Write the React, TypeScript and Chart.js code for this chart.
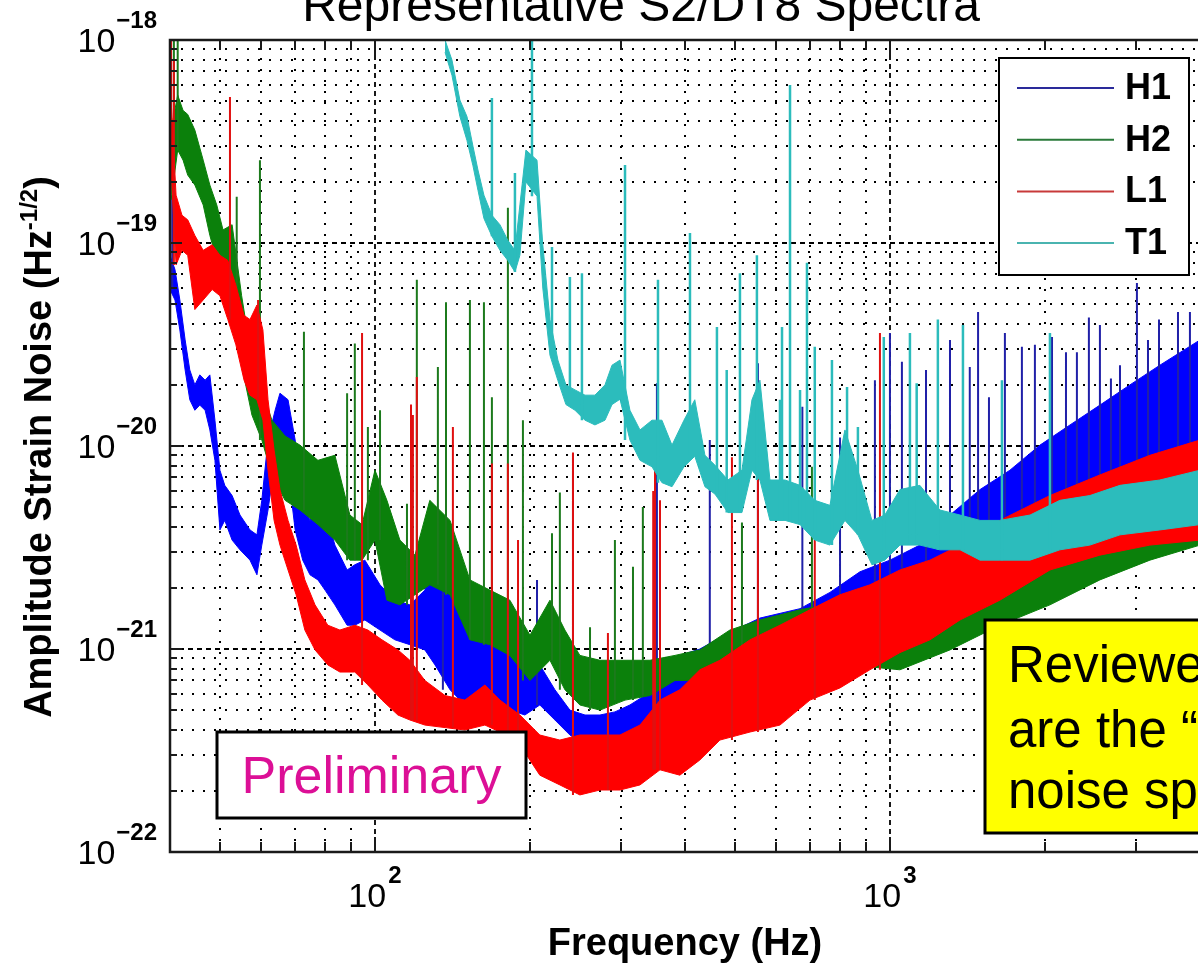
import React, { useEffect, useRef } from "react";
import { Chart, registerables } from "chart.js";

Chart.register(...registerables);

const FONT = '"Liberation Sans", Arial, Helvetica, sans-serif';

const TITLE = "Representative S2/DT8 Spectra";
const X_AXIS_TITLE = "Frequency (Hz)";
const Y_AXIS_TITLE = "Amplitude Strain Noise (Hz";
const Y_AXIS_TITLE_SUP = "-1/2";
const Y_AXIS_TITLE_END = ")";

const X_MIN = 40;
const X_MAX = 4000;
const Y_MIN = 1e-22;
const Y_MAX = 1e-18;

const xMajorTicks = [100, 1000];
const xMajorExps = ["2", "3"];
const xMinorTicks = [50, 60, 70, 80, 90, 200, 300, 400, 500, 600, 700, 800, 900, 2000, 3000];
const yMajorTicks = [1e-22, 1e-21, 1e-20, 1e-19, 1e-18];
const yMajorExps = ["\u221222", "\u221221", "\u221220", "\u221219", "\u221218"];
const yMinorTicks = [
  2e-22, 3e-22, 4e-22, 5e-22, 6e-22, 7e-22, 8e-22, 9e-22,
  2e-21, 3e-21, 4e-21, 5e-21, 6e-21, 7e-21, 8e-21, 9e-21,
  2e-20, 3e-20, 4e-20, 5e-20, 6e-20, 7e-20, 8e-20, 9e-20,
  2e-19, 3e-19, 4e-19, 5e-19, 6e-19, 7e-19, 8e-19, 9e-19,
];

const seriesNames = ["H1", "H2", "L1", "T1"];
const seriesColors = ["#0000ff", "#0b800b", "#ff0000", "#2cbcbc"];
const spikeColors = ["#2020a8", "#1c7a1c", "#e01010", "#2cbcbc"];
const legendColors = ["#2a2a9a", "#2a7a3a", "#c83a3a", "#4ab4b0"];

const PRELIM_TEXT = "Preliminary";
const NOTE_LINES = ["Reviewed spectra", "are the \u201cofficial\u201d", "noise spectra"];

// ---------------- H1 ----------------
const h1Freq = [
  40.0, 40.9, 41.8, 42.8, 43.7, 44.7, 45.7, 46.8, 47.8, 48.9,
  50.0, 51.1, 52.8, 54.7, 57.2, 59.0, 60.3, 62.0, 64.0, 65.4,
  67.8, 70.0, 72.4, 74.8, 77.5, 80.0, 83.6, 88.3, 91.4, 95.6,
  102.3, 109.3, 116.9, 125.0, 130.8, 139.9, 149.5, 159.9, 171.0, 182.8,
  195.5, 209.0, 223.6, 239.1, 255.8, 273.5, 292.4, 312.7, 334.4, 357.7,
  390.9, 427.5, 488.9, 559.2, 668.9, 764.6, 874.3, 1000, 1143, 1308,
  1496, 1710, 1956, 2237, 2557, 2924, 3343, 4000,
];
const h1Upper = [
  8.7e-20, 7.4e-20, 5.24e-20, 3.33e-20, 2.37e-20, 2.0e-20, 2.24e-20, 2.11e-20, 2.24e-20, 1.34e-20,
  7.6e-21, 6.4e-21, 5.7e-21, 4.57e-21, 3.86e-21, 3.65e-21, 5.4e-21, 1.07e-20, 1.5e-20, 1.82e-20,
  1.69e-20, 1.07e-20, 5.4e-21, 4.3e-21, 5.1e-21, 4.84e-21, 3.25e-21, 2.45e-21, 2.6e-21, 2.74e-21,
  2.07e-21, 1.74e-21, 1.65e-21, 1.95e-21, 2.74e-21, 2.32e-21, 2.19e-21, 1.74e-21, 1.24e-21, 9.3e-22,
  8.8e-22, 8.35e-22, 6.3e-22, 5.0e-22, 4.73e-22, 4.73e-22, 4.9e-22, 5.3e-22, 5.9e-22, 7.9e-22,
  9.3e-22, 1.0e-21, 1.21e-21, 1.42e-21, 1.58e-21, 1.9e-21, 2.4e-21, 2.74e-21, 3.25e-21, 4.57e-21,
  6.1e-21, 7.6e-21, 1.01e-20, 1.27e-20, 1.59e-20, 2.0e-20, 2.5e-20, 3.33e-20,
];
const h1Lower = [
  5.9e-20, 5.24e-20, 3.73e-20, 2.37e-20, 1.69e-20, 1.5e-20, 1.59e-20, 1.5e-20, 1.2e-20, 8.5e-21,
  3.86e-21, 4.3e-21, 3.44e-21, 3.08e-21, 2.74e-21, 2.32e-21, 3.25e-21, 4.84e-21, 8.5e-21, 1.07e-20,
  7.6e-21, 3.86e-21, 2.74e-21, 2.32e-21, 2.19e-21, 1.95e-21, 1.65e-21, 1.31e-21, 1.31e-21, 1.39e-21,
  1.24e-21, 1.11e-21, 1.05e-21, 9.9e-22, 8.35e-22, 6.3e-22, 5.3e-22, 5.6e-22, 5.3e-22, 5.0e-22,
  4.73e-22, 5.3e-22, 4.47e-22, 3.77e-22, 3.37e-22, 3.56e-22, 3.77e-22, 3.77e-22, 3.99e-22, 4.47e-22,
  6.3e-22, 7.0e-22, 7.9e-22, 9.3e-22, 1.05e-21, 1.31e-21, 1.65e-21, 1.85e-21, 2.07e-21, 2.45e-21,
  2.74e-21, 3.08e-21, 3.44e-21, 3.86e-21, 4.3e-21, 4.84e-21, 5.4e-21, 6.1e-21,
];
const h1SpikeFreq = [
  40.4, 135.5, 206.4, 242.4, 352.8, 446.9, 554.2, 676, 800, 935, 1000, 1055, 1175, 1308, 1429,
  1483, 1557, 1672, 1804, 1912, 2064, 2197, 2307, 2434, 2557, 2686, 2797, 3017, 3170, 3330, 3625, 3824,
];
const h1SpikePeak = [
  1.72e-19, 4.47e-21, 2.19e-21, 9.2e-21, 2.04e-20, 1.07e-20, 2.56e-20, 1.56e-20, 1.1e-20, 2.11e-20, 3.6e-20, 2.6e-20, 2.37e-20, 3.33e-20, 2.45e-20,
  4.57e-20, 1.74e-20, 3.6e-20, 3.08e-20, 3.15e-20, 3.44e-20, 2.9e-20, 2.9e-20, 4.3e-20, 3.95e-20, 2.15e-20, 2.5e-20, 6.35e-20, 3.33e-20, 4.2e-20, 4.57e-20, 4.57e-20,
];

// ---------------- H2 ----------------
const h2Freq = [
  40.2, 41.4, 42.4, 43.3, 44.7, 46.4, 47.8, 49.3, 50.7, 52.8,
  55.1, 57.7, 60.3, 63.1, 66.9, 71.5, 77.5, 83.6, 89.4, 94.4,
  100, 105.5, 111.8, 119.6, 127.8, 139.9, 152.9, 167.2, 182.8, 200,
  218.7, 233.8, 250, 273.5, 305.9, 342, 382.5, 427.5, 488.9, 559.2,
  668.9, 836.1, 1045.7, 1308, 1635, 2045, 2557, 3198, 4000,
];
const h2Upper = [
  3.6e-19, 5.36e-19, 4.5e-19, 4.3e-19, 3.6e-19, 2.56e-19, 1.93e-19, 1.54e-19, 1.16e-19, 1.23e-19,
  5.5e-20, 2.65e-20, 1.89e-20, 1.34e-20, 1.12e-20, 1.01e-20, 8.5e-21, 9.0e-21, 4.57e-21, 4.1e-21,
  7.6e-21, 5.4e-21, 3.44e-21, 2.9e-21, 5.4e-21, 4.3e-21, 2.19e-21, 1.95e-21, 1.74e-21, 1.17e-21,
  1.74e-21, 1.24e-21, 9.3e-22, 8.8e-22, 8.8e-22, 8.8e-22, 9.3e-22, 9.9e-22, 1.24e-21, 1.39e-21,
  1.56e-21, 1.74e-21, 1.95e-21, 2.19e-21, 2.74e-21, 3.25e-21, 4.1e-21, 5.1e-21, 6.1e-21,
];
const h2Lower = [
  1.63e-19, 2.87e-19, 2.56e-19, 2.16e-19, 1.93e-19, 1.54e-19, 1.09e-19, 8.2e-20, 5.24e-20, 5.5e-20,
  2.5e-20, 1.42e-20, 1.07e-20, 7.2e-21, 5.4e-21, 4.84e-21, 4.1e-21, 3.44e-21, 2.74e-21, 2.74e-21,
  3.44e-21, 1.74e-21, 1.65e-21, 1.85e-21, 2.07e-21, 1.85e-21, 1.11e-21, 1.05e-21, 9.3e-22, 7.0e-22,
  8.8e-22, 6.3e-22, 5.3e-22, 5.0e-22, 5.6e-22, 5.9e-22, 7.0e-22, 7.0e-22, 7.45e-22, 8.35e-22,
  9.3e-22, 8.35e-22, 7.9e-22, 9.9e-22, 1.31e-21, 1.65e-21, 2.19e-21, 2.74e-21, 3.25e-21,
];
const h2SpikeFreq = [
  40.7, 41.4, 53.9, 59.8, 72.8, 88.3, 91.4, 96.9, 102.3, 115.4,
  120.6, 132.5, 137.4, 152.9, 162.8, 168.7, 181.2, 193.8, 220.7, 228.6,
  261.6, 292.4, 317.0, 331.3, 516.0, 705.5,
];
const h2SpikePeak = [
  1e-18, 1e-18, 1.69e-19, 2.56e-19, 3.65e-20, 1.82e-20, 3.2e-20, 1.24e-20, 1.5e-20, 5.2e-21,
  6.6e-20, 2.45e-20, 5.1e-20, 5.24e-20, 5.1e-20, 1.74e-20, 1.49e-19, 1.34e-20, 3.72e-21, 5.9e-21,
  1.28e-21, 3.44e-21, 2.54e-21, 5.0e-21, 4.2e-21, 7.9e-21,
];

// ---------------- L1 ----------------
const l1Freq = [
  40.2, 41.1, 42.2, 43.3, 44.7, 46.4, 48.3, 50.0, 51.8, 53.7,
  55.7, 57.2, 59.0, 60.6, 62.0, 63.7, 65.4, 67.8, 70.3, 73.1,
  76.5, 81.0, 85.5, 91.4, 96.9, 103.2, 110.8, 116.9, 125.0, 136.8,
  149.5, 163.5, 174.9, 191.2, 209.0, 228.6, 250, 273.5, 299.1, 327.1,
  357.7, 390.9, 427.5, 467.6, 535.1, 611.6, 699.3, 799.7, 914.2, 1045.7,
  1196, 1368, 1635, 2045, 2557, 3198, 4000,
];
const l1Upper = [
  5.06e-19, 1.72e-19, 1.37e-19, 1.3e-19, 1.09e-19, 9.2e-20, 9.8e-20, 8.7e-20, 8.2e-20, 6.2e-20,
  4.4e-20, 4.2e-20, 4.95e-20, 3.73e-20, 1.69e-20, 9.55e-21, 6.1e-21, 4.3e-21, 3.25e-21, 2.19e-21,
  1.65e-21, 1.31e-21, 1.24e-21, 1.31e-21, 1.24e-21, 1.11e-21, 9.9e-22, 8.8e-22, 7.0e-22, 5.9e-22,
  5.6e-22, 6.65e-22, 5.6e-22, 4.73e-22, 3.77e-22, 3.56e-22, 3.77e-22, 3.77e-22, 3.77e-22, 4.22e-22,
  5.6e-22, 6.3e-22, 7.9e-22, 8.8e-22, 1.11e-21, 1.31e-21, 1.56e-21, 1.85e-21, 2.07e-21, 2.45e-21,
  2.74e-21, 3.25e-21, 4.3e-21, 5.7e-21, 7.2e-21, 9.0e-21, 1.07e-20,
];
const l1Lower = [
  2.29e-19, 7.8e-20, 9.2e-20, 8.7e-20, 4.7e-20, 5.24e-20, 5.9e-20, 5.5e-20, 4.2e-20, 3.15e-20,
  2.11e-20, 1.78e-20, 1.69e-20, 1.34e-20, 7.6e-21, 4.3e-21, 3.25e-21, 2.45e-21, 1.85e-21, 1.24e-21,
  9.9e-22, 8.35e-22, 7.7e-22, 7.7e-22, 6.65e-22, 5.6e-22, 4.73e-22, 4.47e-22, 4.22e-22, 4.1e-22,
  3.99e-22, 4.22e-22, 3.9e-22, 3.37e-22, 2.39e-22, 2.14e-22, 1.91e-22, 2.02e-22, 2.02e-22, 2.14e-22,
  2.54e-22, 2.39e-22, 2.84e-22, 3.56e-22, 3.9e-22, 4.22e-22, 5.6e-22, 6.43e-22, 7.9e-22, 9.6e-22,
  1.11e-21, 1.39e-21, 1.74e-21, 2.45e-21, 2.9e-21, 3.25e-21, 3.44e-21,
];
const l1SpikeFreq = [
  40.2, 40.7, 52.3, 59.3, 94.4, 117.5, 118.5, 120.6, 141.7, 168.7,
  181.2, 189.6, 242.4, 283.4, 347.0, 349.8, 357.7, 493.4, 554.2, 714.6, 956.3,
];
const l1SpikePeak = [
  1e-18, 8e-19, 5.24e-19, 5.24e-20, 3.6e-20, 1.6e-20, 1.42e-20, 2.19e-20, 1.24e-20, 8.2e-21,
  8.2e-21, 3.44e-21, 9.3e-21, 1.2e-21, 6.0e-21, 7.6e-21, 5.4e-21, 8.8e-21, 7.9e-21, 3.44e-21, 3.6e-20,
];

// ---------------- T1 ----------------
const t1Freq = [
  136.8, 141.1, 146.2, 150.9, 155.0, 158.5, 162.8, 168.7, 174.9, 181.2,
  187.0, 191.2, 196.4, 206.4, 211.8, 218.7, 226.6, 234.9, 244.6, 255.8,
  267.4, 279.7, 288.6, 299.1, 312.7, 327.1, 345.1, 360.8, 377.4, 398.2,
  417.9, 437.3, 457.2, 484.6, 516.0, 539.6, 559.2, 584.8, 625.7, 668.9,
  714.6, 764.6, 817.7, 866.6, 922.6, 977.4, 1045.7, 1143, 1250, 1368,
  1496, 1635, 1871, 2138, 2445, 2797, 3343, 4000,
];
const t1Upper = [
  1e-18, 7.97e-19, 5.06e-19, 4.2e-19, 3.0e-19, 2.29e-19, 1.72e-19, 1.37e-19, 1.23e-19, 1.03e-19,
  9.2e-20, 1.54e-19, 2.87e-19, 2.56e-19, 9.8e-20, 4.2e-20, 2.65e-20, 2.0e-20, 1.89e-20, 1.78e-20,
  1.78e-20, 2.0e-20, 2.5e-20, 2.65e-20, 1.5e-20, 1.2e-20, 1.34e-20, 1.34e-20, 1.01e-20, 1.34e-20,
  1.69e-20, 9.0e-21, 8.05e-21, 6.8e-21, 7.6e-21, 1.69e-20, 2.11e-20, 6.8e-21, 6.8e-21, 6.4e-21,
  5.4e-21, 5.1e-21, 1.2e-20, 7.6e-21, 4.3e-21, 4.57e-21, 6.1e-21, 6.4e-21, 4.84e-21, 4.57e-21,
  4.3e-21, 4.3e-21, 4.57e-21, 5.4e-21, 5.7e-21, 6.4e-21, 6.8e-21, 7.6e-21,
];
const t1Lower = [
  8.7e-19, 6.7e-19, 4.2e-19, 3.2e-19, 2.4e-19, 1.82e-19, 1.32e-19, 1.08e-19, 9.2e-20, 8.2e-20,
  7.2e-20, 8.7e-20, 2.0e-19, 1.7e-19, 6.0e-20, 2.8e-20, 2.1e-20, 1.6e-20, 1.5e-20, 1.34e-20,
  1.27e-20, 1.34e-20, 1.6e-20, 1.7e-20, 1.07e-20, 8.5e-21, 7.9e-21, 6.6e-21, 6.3e-21, 7.9e-21,
  8.9e-21, 6.3e-21, 5.8e-21, 4.7e-21, 4.7e-21, 7.6e-21, 6.8e-21, 4.3e-21, 4.3e-21, 4.1e-21,
  3.44e-21, 3.25e-21, 4.3e-21, 3.65e-21, 2.6e-21, 2.74e-21, 3.25e-21, 3.25e-21, 3.08e-21, 3.08e-21,
  2.74e-21, 2.74e-21, 2.74e-21, 3.08e-21, 3.25e-21, 3.65e-21, 3.86e-21, 4.1e-21,
];
const t1SpikeFreq = [
  168.7, 187.0, 201.8, 220.7, 239.1, 252.3, 305.9, 354.5, 409.0, 461.4,
  482.0, 511.4, 551.7, 611.6, 617.2, 639.7, 669.0, 690.1, 714.6, 771.6,
  825.5, 866.6, 972.9, 1093.5, 1127, 1239, 1386, 1650, 2045,
];
const t1SpikePeak = [
  5.18e-19, 2.21e-19, 1e-18, 9.55e-20, 6.8e-20, 7.1e-20, 2.42e-19, 6.6e-20, 1.12e-19, 3.86e-20,
  2.37e-20, 7.1e-20, 8.7e-20, 1.69e-20, 3.86e-20, 6.0e-19, 1.89e-20, 8.0e-20, 3.08e-20, 2.65e-20,
  1.95e-20, 1.24e-20, 3.44e-20, 3.6e-20, 2.04e-20, 4.2e-20, 3.95e-20, 2.11e-20, 3.6e-20,
];

function nearestIndex(freqs: number[], f: number) {
  let best = 0;
  let bestD = Infinity;
  for (let i = 0; i < freqs.length; i++) {
    const d = Math.abs(Math.log(freqs[i]) - Math.log(f));
    if (d < bestD) {
      bestD = d;
      best = i;
    }
  }
  return best;
}

function buildDatasets() {
  const groups = [
    { freq: h1Freq, up: h1Upper, lo: h1Lower, sf: h1SpikeFreq, sp: h1SpikePeak, w: 2 },
    { freq: h2Freq, up: h2Upper, lo: h2Lower, sf: h2SpikeFreq, sp: h2SpikePeak, w: 2 },
    { freq: l1Freq, up: l1Upper, lo: l1Lower, sf: l1SpikeFreq, sp: l1SpikePeak, w: 2 },
    { freq: t1Freq, up: t1Upper, lo: t1Lower, sf: t1SpikeFreq, sp: t1SpikePeak, w: 2.5 },
  ];
  const out: any[] = [];
  groups.forEach((g, k) => {
    const base = (3 - k) * 3 + 1;
    out.push({
      label: seriesNames[k] + " upper",
      data: g.freq.map((f, i) => ({ x: f, y: g.up[i] })),
      borderColor: seriesColors[k],
      borderWidth: 1,
      pointRadius: 0,
      fill: false,
      order: base + 2,
    });
    out.push({
      label: seriesNames[k] + " lower",
      data: g.freq.map((f, i) => ({ x: f, y: g.lo[i] })),
      borderColor: seriesColors[k],
      backgroundColor: seriesColors[k],
      borderWidth: 1,
      pointRadius: 0,
      fill: "-1",
      order: base + 1,
    });
    const pts: any[] = [];
    g.sf.forEach((f, i) => {
      const j = nearestIndex(g.freq, f);
      pts.push({ x: f, y: g.lo[j] }, { x: f, y: g.sp[i] }, { x: f, y: null });
    });
    out.push({
      label: seriesNames[k] + " lines",
      data: pts,
      borderColor: spikeColors[k],
      borderWidth: g.w,
      pointRadius: 0,
      fill: false,
      spanGaps: false,
      order: base,
    });
  });
  return out;
}

const lookPlugin = {
  id: "matlabLook",
  beforeDatasetsDraw(chart: any) {
    const { ctx, chartArea } = chart;
    const { left, right, top, bottom } = chartArea;
    const xs = chart.scales.x;
    const ys = chart.scales.y;
    ctx.save();
    ctx.beginPath();
    ctx.rect(left, top, right - left, bottom - top);
    ctx.clip();
    ctx.strokeStyle = "#000";
    ctx.lineCap = "butt";
    ctx.lineWidth = 2;
    ctx.setLineDash([2, 9]);
    ctx.beginPath();
    xMinorTicks.forEach((v) => {
      const p = Math.round(xs.getPixelForValue(v));
      ctx.moveTo(p, bottom);
      ctx.lineTo(p, top);
    });
    yMinorTicks.forEach((v) => {
      const p = Math.round(ys.getPixelForValue(v));
      ctx.moveTo(left, p);
      ctx.lineTo(right, p);
    });
    ctx.stroke();
    ctx.lineWidth = 1.8;
    ctx.setLineDash([5, 4]);
    ctx.beginPath();
    xMajorTicks.forEach((v) => {
      const p = Math.round(xs.getPixelForValue(v));
      ctx.moveTo(p, bottom);
      ctx.lineTo(p, top);
    });
    yMajorTicks.forEach((v) => {
      const p = Math.round(ys.getPixelForValue(v));
      if (p <= top + 2 || p >= bottom - 2) return;
      ctx.moveTo(left, p);
      ctx.lineTo(right, p);
    });
    ctx.stroke();
    ctx.restore();
  },
  afterDraw(chart: any) {
    const { ctx, chartArea } = chart;
    const { left, right, top, bottom } = chartArea;
    const xs = chart.scales.x;
    const ys = chart.scales.y;
    ctx.save();
    ctx.setLineDash([]);

    // axes box (left, top, bottom) and inward ticks
    ctx.strokeStyle = "#1a1a1a";
    ctx.lineWidth = 2.5;
    ctx.beginPath();
    ctx.moveTo(right, top);
    ctx.lineTo(left, top);
    ctx.lineTo(left, bottom);
    ctx.lineTo(right, bottom);
    ctx.stroke();
    ctx.lineWidth = 2;
    ctx.beginPath();
    xMinorTicks.concat(xMajorTicks).forEach((v) => {
      const p = Math.round(xs.getPixelForValue(v));
      const len = xMajorTicks.includes(v) ? 15 : 10;
      ctx.moveTo(p, bottom);
      ctx.lineTo(p, bottom - len);
      ctx.moveTo(p, top);
      ctx.lineTo(p, top + len);
    });
    yMinorTicks.concat(yMajorTicks).forEach((v) => {
      const p = Math.round(ys.getPixelForValue(v));
      const len = yMajorTicks.includes(v) ? 12 : 7;
      ctx.moveTo(left, p);
      ctx.lineTo(left + len, p);
    });
    ctx.stroke();

    // tick labels
    ctx.fillStyle = "#000";
    ctx.textBaseline = "alphabetic";
    yMajorTicks.forEach((v, i) => {
      const p = ys.getPixelForValue(v);
      ctx.textAlign = "right";
      ctx.font = `bold 24px ${FONT}`;
      ctx.fillText(yMajorExps[i], left - 13, p - 12);
      const ew = ctx.measureText(yMajorExps[i]).width;
      ctx.font = `34px ${FONT}`;
      ctx.fillText("10", left - 13 - ew - 1, p + 12);
    });
    xMajorTicks.forEach((v, i) => {
      const p = xs.getPixelForValue(v);
      ctx.textAlign = "left";
      ctx.font = `34px ${FONT}`;
      const bw = ctx.measureText("10").width;
      ctx.font = `bold 24px ${FONT}`;
      const ew = ctx.measureText(xMajorExps[i]).width;
      const x0 = p - (bw + 2 + ew) / 2;
      ctx.font = `34px ${FONT}`;
      ctx.fillText("10", x0, bottom + 55);
      ctx.font = `bold 24px ${FONT}`;
      ctx.fillText(xMajorExps[i], x0 + bw + 2, bottom + 31);
    });

    // axis titles
    ctx.textAlign = "center";
    ctx.font = `bold 38px ${FONT}`;
    ctx.fillText(X_AXIS_TITLE, 685, bottom + 103);

    ctx.save();
    ctx.translate(51, 447);
    ctx.rotate(-Math.PI / 2);
    ctx.textAlign = "left";
    ctx.font = `bold 38px ${FONT}`;
    const w1 = ctx.measureText(Y_AXIS_TITLE).width;
    const w3 = ctx.measureText(Y_AXIS_TITLE_END).width;
    ctx.font = `bold 24px ${FONT}`;
    const w2 = ctx.measureText(Y_AXIS_TITLE_SUP).width;
    const total = w1 + w2 + w3;
    let cx = -total / 2;
    ctx.font = `bold 38px ${FONT}`;
    ctx.fillText(Y_AXIS_TITLE, cx, 0);
    cx += w1;
    ctx.font = `bold 24px ${FONT}`;
    ctx.fillText(Y_AXIS_TITLE_SUP, cx, -14);
    cx += w2;
    ctx.font = `bold 38px ${FONT}`;
    ctx.fillText(Y_AXIS_TITLE_END, cx, 0);
    ctx.restore();

    // title (partly above the visible area)
    ctx.textAlign = "center";
    ctx.font = `48px ${FONT}`;
    ctx.fillText(TITLE, 641, 21);

    // legend
    const lx = right - 201;
    const ly = top + 18;
    ctx.fillStyle = "#fff";
    ctx.fillRect(lx, ly, 190, 217);
    ctx.strokeStyle = "#000";
    ctx.lineWidth = 2;
    ctx.strokeRect(lx, ly, 190, 217);
    seriesNames.forEach((n, i) => {
      const cy = ly + 30 + i * 51.7;
      ctx.strokeStyle = legendColors[i];
      ctx.lineWidth = 2;
      ctx.beginPath();
      ctx.moveTo(lx + 18, cy);
      ctx.lineTo(lx + 115, cy);
      ctx.stroke();
      ctx.fillStyle = "#000";
      ctx.font = `bold 36px ${FONT}`;
      ctx.textAlign = "left";
      ctx.textBaseline = "middle";
      ctx.fillText(n, lx + 126, cy + 1);
    });
    ctx.textBaseline = "alphabetic";

    // "Preliminary" box
    ctx.fillStyle = "#fff";
    ctx.fillRect(217, 732, 309, 86);
    ctx.strokeStyle = "#000";
    ctx.lineWidth = 3;
    ctx.strokeRect(217, 732, 309, 86);
    ctx.fillStyle = "#dc0f96";
    ctx.font = `52px ${FONT}`;
    ctx.textAlign = "center";
    ctx.fillText(PRELIM_TEXT, 371.5, 793);

    // yellow note box (runs off the right edge)
    ctx.fillStyle = "#ffff00";
    ctx.fillRect(985, 620, 300, 213);
    ctx.strokeStyle = "#000";
    ctx.lineWidth = 3;
    ctx.strokeRect(985, 620, 300, 213);
    ctx.fillStyle = "#000";
    ctx.font = `51px ${FONT}`;
    ctx.textAlign = "left";
    const baselines = [682, 747, 808];
    NOTE_LINES.forEach((t, i) => ctx.fillText(t, 1008, baselines[i]));

    ctx.restore();
  },
};

export default function App() {
  const ref = useRef<HTMLCanvasElement>(null);
  useEffect(() => {
    const canvas = ref.current;
    if (!canvas) return;
    const chart = new Chart(canvas, {
      type: "line",
      data: { datasets: buildDatasets() },
      options: {
        responsive: false,
        animation: false,
        devicePixelRatio: 1,
        events: [],
        layout: { padding: { left: 170, top: 40, right: 0, bottom: 112 } },
        scales: {
          x: { type: "logarithmic", min: X_MIN, max: X_MAX, display: false },
          y: { type: "logarithmic", min: Y_MIN, max: Y_MAX, display: false },
        },
        plugins: {
          legend: { display: false },
          tooltip: { enabled: false },
          title: { display: false },
        },
      },
      plugins: [lookPlugin],
    } as any);
    return () => chart.destroy();
  }, []);
  return (
    <div
      style={{
        position: "fixed",
        left: 0,
        top: 0,
        width: 1198,
        height: 964,
        overflow: "hidden",
        background: "#fff",
      }}
    >
      <canvas ref={ref} width={1200} height={964} style={{ display: "block", width: 1200, height: 964 }} />
    </div>
  );
}
